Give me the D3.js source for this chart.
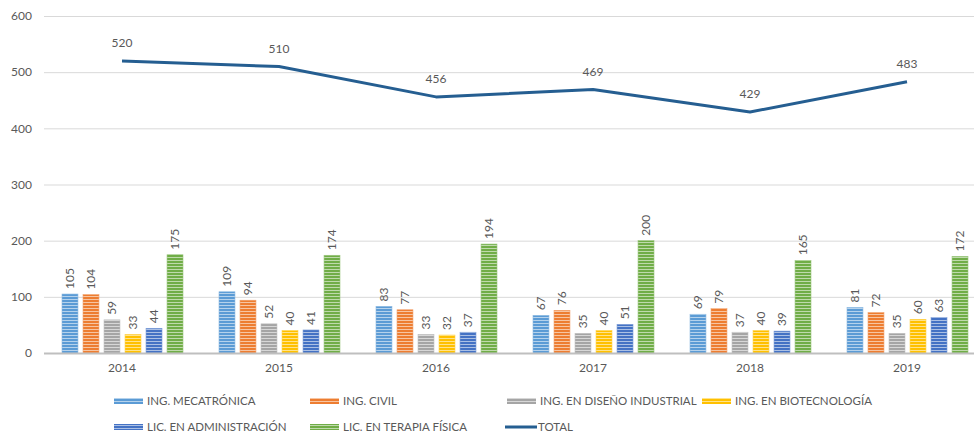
<!DOCTYPE html>
<html><head><meta charset="utf-8">
<script src="https://cdn.jsdelivr.net/npm/d3@7"></script>
<style>body{margin:0;background:#fff}svg{display:block}text{font-family:Lato,"Open Sans",sans-serif;fill:#595959}</style>
</head><body><svg id="c" width="974" height="435"></svg>
<script>
const years = ["2014","2015","2016","2017","2018","2019"];
const seriesNames = ["ING. MECATRÓNICA","ING. CIVIL","ING. EN DISEÑO INDUSTRIAL","ING. EN BIOTECNOLOGÍA","LIC. EN ADMINISTRACIÓN","LIC. EN TERAPIA FÍSICA"];
const mecatronica = [105,109,83,67,69,81];
const civil = [104,94,77,76,79,72];
const disenoIndustrial = [59,52,33,35,37,35];
const biotecnologia = [33,40,32,40,40,60];
const administracion = [44,41,37,51,39,63];
const terapiaFisica = [175,174,194,200,165,172];
const total = [520,510,456,469,429,483];
const yTicks = [0,100,200,300,400,500,600];
const colors = ["#5B9BD5","#ED7D31","#A5A5A5","#FFC000","#4472C4","#70AD47"];
const lineColor = "#255E91";

const seriesVals = [mecatronica,civil,disenoIndustrial,biotecnologia,administracion,terapiaFisica];
const svg = d3.select("#c");
const x0 = d3.scaleBand().domain(years).range([43.5,985.5]);
const x1 = d3.scaleBand().domain(d3.range(6)).range([18.5,139.5]).paddingInner(0.24).paddingOuter(0);
const y = d3.scaleLinear().domain([0,600]).range([353,16]);

const defs = svg.append("defs");
colors.forEach((c,i)=>{
  const p = defs.append("pattern").attr("id","p"+i).attr("patternUnits","userSpaceOnUse").attr("width",4).attr("height",3);
  p.append("rect").attr("width",4).attr("height",3).attr("fill",c);
  p.append("rect").attr("y",2).attr("width",4).attr("height",1).attr("fill",d3.interpolateRgb(c,"#fff")(0.55));
});

// grid
svg.append("g").selectAll("line").data(yTicks.filter(d=>d>0)).join("line")
  .attr("x1",44).attr("x2",974).attr("y1",d=>y(d)+0.5).attr("y2",d=>y(d)+0.5)
  .attr("stroke","#d9d9d9").attr("stroke-width",1);
// y labels
svg.append("g").selectAll("text").data(yTicks).join("text")
  .attr("x",32).attr("y",d=>y(d)).attr("dy","0.35em").attr("text-anchor","end")
  .style("font-size","12px").text(d=>d);

// bars
const g = svg.append("g");
years.forEach((yr,j)=>{
  seriesVals.forEach((vals,i)=>{
    const bx = x0(yr)+x1(i), bw = x1.bandwidth();
    g.append("rect").attr("x",bx).attr("y",y(vals[j])).attr("width",bw).attr("height",y(0)-y(vals[j]))
      .attr("fill","url(#p"+i+")").attr("stroke",d3.interpolateRgb(colors[i],"#fff")(0.3)).attr("stroke-width",0.6);
    g.append("text").attr("transform",`translate(${bx+bw/2},${y(vals[j])-5}) rotate(-90)`)
      .attr("dy","0.35em").attr("text-anchor","start").style("font-size","12px").text(vals[j]);
  });
});

// axis baseline
svg.append("line").attr("x1",44).attr("x2",974).attr("y1",y(0)+0.5).attr("y2",y(0)+0.5)
  .attr("stroke","#bfbfbf").attr("stroke-width",2);
// x labels
svg.append("g").selectAll("text").data(years).join("text")
  .attr("x",d=>x0(d)+x0.bandwidth()/2).attr("y",372).attr("text-anchor","middle")
  .style("font-size","12px").text(d=>d);

// total line
const cx = d=>x0(d)+x0.bandwidth()/2;
svg.append("path").datum(total).attr("fill","none").attr("stroke",lineColor).attr("stroke-width",3)
  .attr("stroke-linejoin","round")
  .attr("d",d3.line().x((d,i)=>cx(years[i])).y(d=>y(d)));
svg.append("g").selectAll("text").data(total).join("text")
  .attr("x",(d,i)=>cx(years[i])).attr("y",d=>y(d)-14).attr("text-anchor","middle")
  .style("font-size","12px").text(d=>d);

// legend
const legItems = [
  {n:seriesNames[0],i:0,x:114,y:401},
  {n:seriesNames[1],i:1,x:310,y:401},
  {n:seriesNames[2],i:2,x:507,y:401},
  {n:seriesNames[3],i:3,x:702,y:401},
  {n:seriesNames[4],i:4,x:114,y:427},
  {n:seriesNames[5],i:5,x:310,y:427},
  {n:"TOTAL",i:-1,x:505,y:427}
];
const lg = svg.append("g");
legItems.forEach(it=>{
  if(it.i>=0){
    lg.append("rect").attr("x",it.x).attr("y",it.y-3).attr("width",29).attr("height",6)
      .attr("fill","url(#p"+it.i+")");
  } else {
    lg.append("line").attr("x1",it.x).attr("x2",it.x+32).attr("y1",it.y).attr("y2",it.y)
      .attr("stroke",lineColor).attr("stroke-width",3);
  }
  lg.append("text").attr("x",it.x+33).attr("y",it.y).attr("dy","0.35em").style("font-size","11.5px").text(it.n);
});
</script></body></html>
